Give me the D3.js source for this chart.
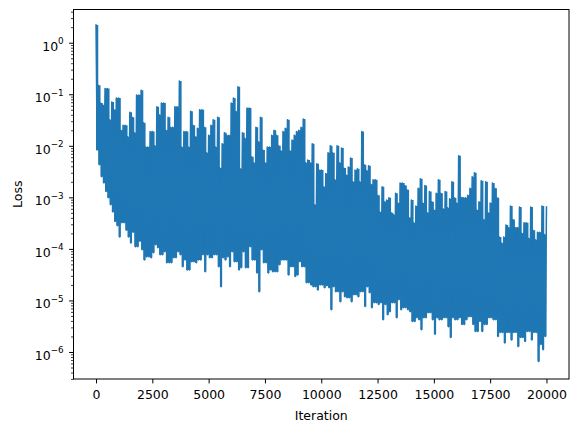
<!DOCTYPE html>
<html>
<head>
<meta charset="utf-8">
<script src="https://cdn.jsdelivr.net/npm/d3@7"></script>
<style>
  html, body { margin: 0; padding: 0; background: #fff; }
  svg { display: block; }
  text { font-family: "DejaVu Sans", sans-serif; fill: #000; }
</style>
</head>
<body>
<svg id="chart" width="578" height="432"></svg>
<script>
// ---- data (upper and lower envelope of the noisy loss, every 100 iterations) ----
const binIterations = 100;
const lossPeaks = [
  2.2, 0.15, 0.068, 0.062, 0.13, 0.13, 0.032, 0.071, 0.050, 0.085,
  0.085, 0.020, 0.025, 0.025, 0.015, 0.045, 0.036, 0.018, 0.097, 0.097,
  0.12, 0.028, 0.0095, 0.0095, 0.019, 0.019, 0.010, 0.057, 0.040, 0.068,
  0.068, 0.020, 0.036, 0.023, 0.023, 0.057, 0.057, 0.18, 0.0095, 0.019,
  0.019, 0.0095, 0.047, 0.025, 0.015, 0.022, 0.050, 0.050, 0.023, 0.0073,
  0.016, 0.025, 0.032, 0.0095, 0.036, 0.0037, 0.011, 0.018, 0.016, 0.016,
  0.068, 0.085, 0.047, 0.14, 0.0036, 0.018, 0.014, 0.054, 0.054, 0.0061,
  0.0047, 0.023, 0.012, 0.036, 0.0083, 0.0047, 0.0095, 0.0095, 0.016, 0.020,
  0.016, 0.010, 0.0080, 0.019, 0.022, 0.032, 0.0080, 0.013, 0.016, 0.019,
  0.020, 0.023, 0.033, 0.0047, 0.0053, 0.0047, 0.011, 0.00072, 0.0045, 0.0034,
  0.0034, 0.0016, 0.0029, 0.0073, 0.010, 0.0073, 0.0022, 0.010, 0.0047, 0.0091,
  0.0037, 0.0027, 0.0039, 0.0058, 0.0020, 0.0034, 0.0036, 0.0020, 0.019, 0.0043,
  0.0033, 0.0041, 0.0018, 0.0022, 0.0022, 0.0011, 0.00052, 0.0016, 0.00082, 0.00089,
  0.00098, 0.00050, 0.00046, 0.0012, 0.00078, 0.0019, 0.0019, 0.0017, 0.0014, 0.00040,
  0.00089, 0.00032, 0.00068, 0.0015, 0.0023, 0.00078, 0.0017, 0.00050, 0.0013, 0.00082,
  0.00057, 0.0012, 0.0022, 0.0012, 0.00060, 0.0013, 0.00063, 0.00094, 0.0020, 0.00098,
  0.00078, 0.0064, 0.0010, 0.00098, 0.00098, 0.0011, 0.0015, 0.0025, 0.0030, 0.00057,
  0.00082, 0.0021, 0.00037, 0.0020, 0.00050, 0.00078, 0.0019, 0.0015, 0.00098, 0.00017,
  0.00013, 0.00017, 0.00029, 0.00026, 0.00068, 0.00037, 0.00026, 0.00026, 0.00065, 0.00020,
  0.00032, 0.00032, 0.00016, 0.00065, 0.00023, 0.00015, 0.00021, 0.00021, 0.00068, 0.00019,
  0.00065
];
const lossTroughs = [
  0.0083, 0.0043, 0.0025, 0.0019, 0.0013, 9.8e-4, 7.2e-4, 5.2e-4, 3.4e-4, 2.8e-4,
  1.7e-4, 3.2e-4, 3.2e-4, 2.3e-4, 1.7e-4, 1.3e-4, 2.1e-4, 1.1e-4, 1.1e-4, 1.4e-4,
  9.6e-5, 6.1e-5, 7.0e-5, 7.0e-5, 6.7e-5, 8.4e-5, 1.2e-4, 1.05e-4, 7.7e-5, 7.7e-5,
  8.8e-5, 5.4e-5, 5.4e-5, 5.4e-5, 6.7e-5, 6.7e-5, 8.8e-5, 7.7e-5, 4.5e-5, 6.1e-5,
  3.9e-5, 3.9e-5, 5.6e-5, 5.6e-5, 5.4e-5, 6.1e-5, 6.1e-5, 7.7e-5, 3.6e-5, 7.7e-5,
  6.7e-5, 6.7e-5, 7.7e-5, 7.7e-5, 4.5e-5, 1.84e-5, 6.7e-5, 6.1e-5, 7.0e-5, 4.5e-5,
  8.8e-5, 5.6e-5, 5.6e-5, 3.9e-5, 4.3e-5, 8.8e-5, 4.3e-5, 4.3e-5, 1.1e-4, 6.1e-5,
  6.1e-5, 3.4e-5, 1.47e-5, 9.6e-5, 5.4e-5, 5.4e-5, 3.4e-5, 3.9e-5, 3.6e-5, 3.6e-5,
  3.6e-5, 4.9e-5, 6.1e-5, 6.1e-5, 6.1e-5, 3.1e-5, 4.5e-5, 4.5e-5, 2.9e-5, 3.1e-5,
  5.6e-5, 4.5e-5, 4.5e-5, 2.2e-5, 2.2e-5, 2.0e-5, 1.84e-5, 1.84e-5, 1.6e-5, 2.0e-5,
  2.0e-5, 1.76e-5, 1.93e-5, 1.76e-5, 6.6e-6, 1.84e-5, 1.47e-5, 1.47e-5, 9.4e-6, 1.47e-5,
  1.18e-5, 1.13e-5, 1.13e-5, 9.4e-6, 1.29e-5, 1.29e-5, 1.18e-5, 1.47e-5, 1.47e-5, 7.6e-6,
  1.84e-5, 1.41e-5, 7.2e-6, 9.0e-6, 9.0e-6, 8.3e-6, 9.0e-6, 4.2e-6, 8.3e-6, 5.3e-6,
  6.0e-6, 9.0e-6, 9.0e-6, 4.6e-6, 1.03e-5, 6.6e-6, 7.2e-6, 7.2e-6, 6.6e-6, 6.0e-6,
  3.9e-6, 3.9e-6, 4.6e-6, 4.2e-6, 2.7e-6, 4.6e-6, 4.6e-6, 5.8e-6, 5.8e-6, 4.2e-6,
  2.2e-6, 4.6e-6, 4.2e-6, 4.2e-6, 4.6e-6, 4.6e-6, 3.1e-6, 1.9e-6, 4.6e-6, 4.2e-6,
  4.2e-6, 4.6e-6, 3.4e-6, 3.4e-6, 4.2e-6, 4.8e-6, 4.8e-6, 3.4e-6, 2.5e-6, 2.5e-6,
  3.9e-6, 2.5e-6, 3.4e-6, 3.4e-6, 4.6e-6, 4.6e-6, 4.2e-6, 4.2e-6, 2.0e-6, 2.4e-6,
  2.4e-6, 1.5e-6, 2.4e-6, 2.4e-6, 1.7e-6, 2.4e-6, 2.4e-6, 1.27e-6, 1.9e-6, 1.9e-6,
  1.6e-6, 2.5e-6, 2.5e-6, 1.7e-6, 2.4e-6, 2.4e-6, 6.5e-7, 1.4e-6, 1.1e-6, 2.0e-6
];
const xTickValues = [0, 2500, 5000, 7500, 10000, 12500, 15000, 17500, 20000];
const yTickExponents = [0, -1, -2, -3, -4, -5, -6];
const xDomain = [-1000, 21000];
const yDomain = [2.99e-7, 4.41];
const xLabel = "Iteration";
const yLabel = "Loss";

// ---- build the series (peak, trough, peak, ...) ----
const series = [];
lossPeaks.forEach((p, k) => {
  series.push({ it: k * binIterations, loss: p });
  if (k < lossTroughs.length) series.push({ it: k * binIterations + binIterations / 2, loss: lossTroughs[k] });
});
// band per bin (the dense oscillation fills the space between trough and peak)
const bands = lossPeaks.map((p, k) => ({
  it: k * binIterations,
  hi: p,
  lo: lossTroughs[Math.min(k, lossTroughs.length - 1)]
}));

// ---- layout ----
const L = 73.5, R = 569, T = 9.5, B = 379;
const svg = d3.select("#chart");
const x = d3.scaleLinear().domain(xDomain).range([L, R]);
const y = d3.scaleLog().domain(yDomain).range([B, T]);

svg.append("defs").append("clipPath").attr("id", "clip")
  .append("rect").attr("x", L).attr("y", T).attr("width", R - L).attr("height", B - T);

const plot = svg.append("g").attr("clip-path", "url(#clip)");
plot.append("path")
  .datum(bands)
  .attr("fill", "#1f77b4")
  .attr("stroke", "none")
  .attr("d", d3.area().curve(d3.curveStepAfter)
    .x(d => x(d.it)).y0(d => y(d.lo)).y1(d => y(d.hi)));
plot.append("path")
  .datum(series)
  .attr("fill", "none")
  .attr("stroke", "#1f77b4")
  .attr("stroke-width", 1.5)
  .attr("stroke-linejoin", "round")
  .attr("stroke-linecap", "square")
  .attr("d", d3.line().x(d => x(d.it)).y(d => y(d.loss)));

// ---- x axis ----
const xAxis = d3.axisBottom(x).tickValues(xTickValues).tickSize(4.4).tickPadding(4.4)
  .tickFormat(d3.format("d"));
const gx = svg.append("g").attr("transform", `translate(0,${B})`).call(xAxis);
gx.select(".domain").remove();
gx.selectAll(".tick line").attr("stroke", "#000").attr("stroke-width", 1);
gx.selectAll(".tick text").attr("font-size", 12.5).attr("font-family", "DejaVu Sans").attr("fill", "#000")
  .attr("dy", null).attr("y", 20.3);

// ---- y axis (log) ----
const minorVals = [];
for (let e = -7; e <= 0; e++) for (let m = 2; m <= 9; m++) {
  const v = m * Math.pow(10, e);
  if (v >= yDomain[0] && v <= yDomain[1]) minorVals.push(v);
}
const gyMinor = svg.append("g").attr("transform", `translate(${L},0)`)
  .call(d3.axisLeft(y).tickValues(minorVals).tickSize(2.5).tickFormat(""));
gyMinor.select(".domain").remove();
gyMinor.selectAll(".tick line").attr("stroke", "#000").attr("stroke-width", 0.75);

const majorVals = yTickExponents.map(e => Math.pow(10, e));
const gy = svg.append("g").attr("transform", `translate(${L},0)`)
  .call(d3.axisLeft(y).tickValues(majorVals).tickSize(4.4).tickFormat(""));
gy.select(".domain").remove();
gy.selectAll(".tick line").attr("stroke", "#000").attr("stroke-width", 1);
gy.selectAll(".tick").each(function (d, i) {
  const e = yTickExponents[i];
  const t = d3.select(this).append("text")
    .attr("x", -9.8).attr("y", 7.3)
    .attr("text-anchor", "end").attr("font-size", 12.5).attr("fill", "#000");
  t.append("tspan").text("10");
  t.append("tspan").attr("dy", -6.5).attr("font-size", 8.8)
    .text(e < 0 ? "\u2212" + Math.abs(e) : String(e));
});

// ---- spines ----
svg.append("rect").attr("x", L).attr("y", T).attr("width", R - L).attr("height", B - T)
  .attr("fill", "none").attr("stroke", "#000").attr("stroke-width", 1);

// ---- labels ----
svg.append("text").attr("x", (L + R) / 2).attr("y", 420).attr("text-anchor", "middle")
  .attr("font-size", 12.5).text(xLabel);
svg.append("text").attr("transform", `translate(21.5,${(T + B) / 2}) rotate(-90)`)
  .attr("text-anchor", "middle").attr("font-size", 12.5).text(yLabel);
</script>
</body>
</html>
